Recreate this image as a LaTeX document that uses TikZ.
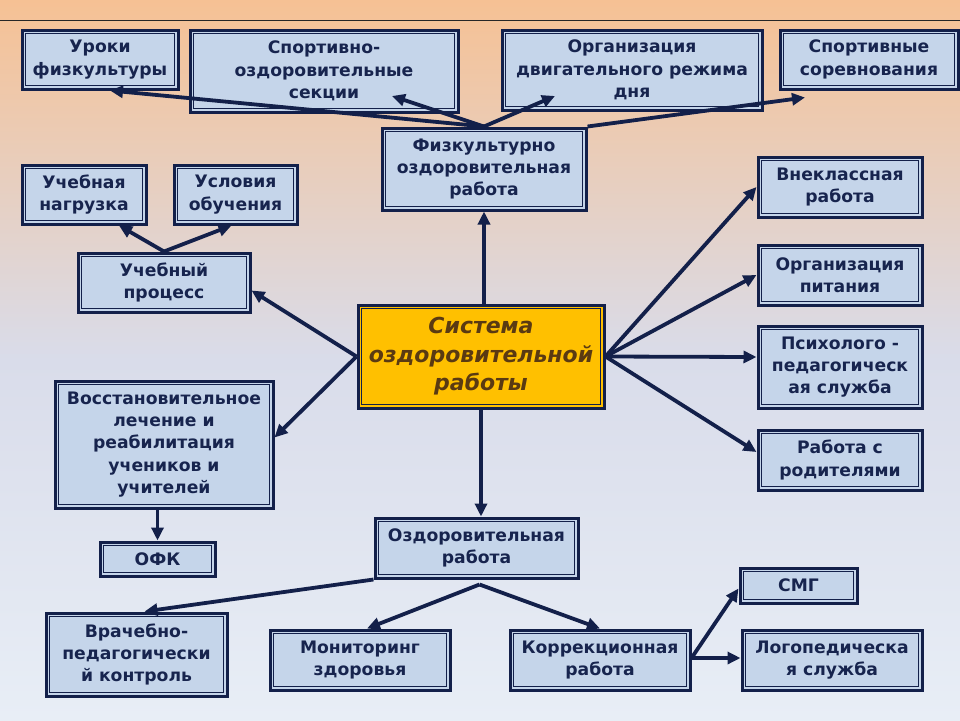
\documentclass[tikz,border=0pt]{standalone}
\usepackage{fontspec}
\setmainfont{DejaVu Sans}
\usetikzlibrary{arrows.meta,calc}
\definecolor{navy}{HTML}{13204A}
\definecolor{boxfill}{HTML}{C5D5EA}
\definecolor{txt}{HTML}{17244E}
\definecolor{gold}{HTML}{FFC000}
\definecolor{brownish}{HTML}{5A3A12}
\definecolor{peach}{HTML}{F6C194}
\definecolor{midbg}{HTML}{D9DCEA}
\definecolor{palebg}{HTML}{E8EEF6}
\begin{document}
\begin{tikzpicture}[x=1pt,y=-1pt,
 box/.style={draw=navy, line width=3pt, fill=boxfill, text=txt,
   font=\fontsize{17.2}{22.3}\selectfont\bfseries, align=center, inner sep=0pt,
   path picture={\draw[navy,line width=0.9pt] ([shift={(3.5pt,-3.5pt)}]path picture bounding box.north west) rectangle ([shift={(-3.5pt,3.5pt)}]path picture bounding box.south east);}},
 centerbox/.style={box, fill=gold, text=brownish,
   font=\fontsize{22}{28.5}\selectfont\bfseries\itshape},
 arr/.style={draw=navy, line width=3.8pt, -{Triangle[length=13pt,width=12pt]}},
 ]
\useasboundingbox (0,0) rectangle (960,720);
\shade[top color=peach, bottom color=palebg, middle color=midbg] (0,0) rectangle (960,720);
\draw[black!85, line width=1pt] (0,20) -- (960,20);

% top row
\node[box, minimum width=156pt, minimum height=59pt] (uroki) at (100,59.5) {Уроки\\физкультуры};
\node[box, minimum width=268pt, minimum height=82pt] (sport) at (324,71) {Спортивно-\\оздоровительные\\секции};
\node[box, minimum width=260pt, minimum height=80pt] (orgdv) at (632,70) {Организация\\двигательного режима\\дня};
\node[box, minimum width=178pt, minimum height=59pt] (sorev) at (869,59.5) {Спортивные\\соревнования};
\node[box, minimum width=204pt, minimum height=82pt] (fiz) at (484,169) {Физкультурно\\оздоровительная\\работа};

% left
\node[box, minimum width=124pt, minimum height=59pt] (ucnag) at (84,194.5) {Учебная\\нагрузка};
\node[box, minimum width=123pt, minimum height=59pt] (uslov) at (235.5,194.5) {Условия\\обучения};
\node[box, minimum width=172pt, minimum height=59pt] (ucproc) at (164,282.5) {Учебный\\процесс};
\node[box, minimum width=218pt, minimum height=127pt] (vosst) at (164,444.5) {Восстановительное\\лечение и\\реабилитация\\учеников и\\учителей};
\node[box, minimum width=115pt, minimum height=34pt] (ofk) at (157.5,559) {ОФК};

% center
\node[centerbox, minimum width=246pt, minimum height=103pt] (sys) at (481,356.5) {Система\\оздоровительной\\работы};

% right
\node[box, minimum width=164pt, minimum height=60pt] (vnekl) at (840,187) {Внеклассная\\работа};
\node[box, minimum width=164pt, minimum height=60pt] (pit) at (840,275) {Организация\\питания};
\node[box, minimum width=164pt, minimum height=82pt] (psy) at (840,367) {Психолого -\\педагогическ\\ая служба};
\node[box, minimum width=164pt, minimum height=60pt] (rod) at (840,460) {Работа с\\родителями};

% bottom
\node[box, minimum width=203pt, minimum height=60pt] (ozd) at (476.5,548) {Оздоровительная\\работа};
\node[box, minimum width=117pt, minimum height=35pt] (smg) at (798.5,585.5) {СМГ};
\node[box, minimum width=181pt, minimum height=83pt] (vrach) at (136.5,654.5) {Врачебно-\\педагогически\\й контроль};
\node[box, minimum width=180pt, minimum height=60pt] (monit) at (360,660) {Мониторинг\\здоровья};
\node[box, minimum width=180pt, minimum height=60pt] (korr) at (600,660) {Коррекционная\\работа};
\node[box, minimum width=180pt, minimum height=60pt] (logo) at (832,660) {Логопедическа\\я служба};

% connectors
\draw[arr] (fiz.north) -- ($(uroki.south)+(10,0)$);
\draw[arr] (fiz.north) -- ($(sport.center)+(68,25)$);
\draw[arr] (fiz.north) -- ($(orgdv.center)+(-77,26)$);
\draw[arr] (fiz.north east) -- ($(sorev.south)+(-64,7)$);
\draw[arr] (sys.north -| fiz.south) -- (fiz.south);
\draw[arr] (sys.west) -- ($(ucproc.east)+(0,8)$);
\draw[arr] (sys.west) -- ($(vosst.east)+(0,-7)$);
\draw[arr] (ucproc.north) -- ($(ucnag.south)+(35,0)$);
\draw[arr] (ucproc.north) -- ($(uslov.south)+(-4,0)$);
\draw[arr] (ofk.north |- vosst.south) -- (ofk.north);
\draw[arr] (sys.east) -- (vnekl.west);
\draw[arr] (sys.east) -- (pit.west);
\draw[arr] (sys.east) -- ($(psy.west)+(0,-10)$);
\draw[arr] (sys.east) -- ($(rod.west)+(0,-8)$);
\draw[arr] (sys.south) -- (sys.south |- ozd.north);
\draw[arr] (ozd.south west) -- ($(vrach.north)+(8,0)$);
\draw[arr] ($(ozd.south)+(3,5)$) -- ($(monit.north)+(7,0)$);
\draw[arr] ($(ozd.south)+(3,5)$) -- (korr.north);
\draw[arr] ($(korr.east)+(0,-2)$) -- ($(smg.west)+(0,3)$);
\draw[arr] ($(korr.east)+(0,-2)$) -- ($(logo.west)+(0,-2)$);
\end{tikzpicture}
\end{document}
